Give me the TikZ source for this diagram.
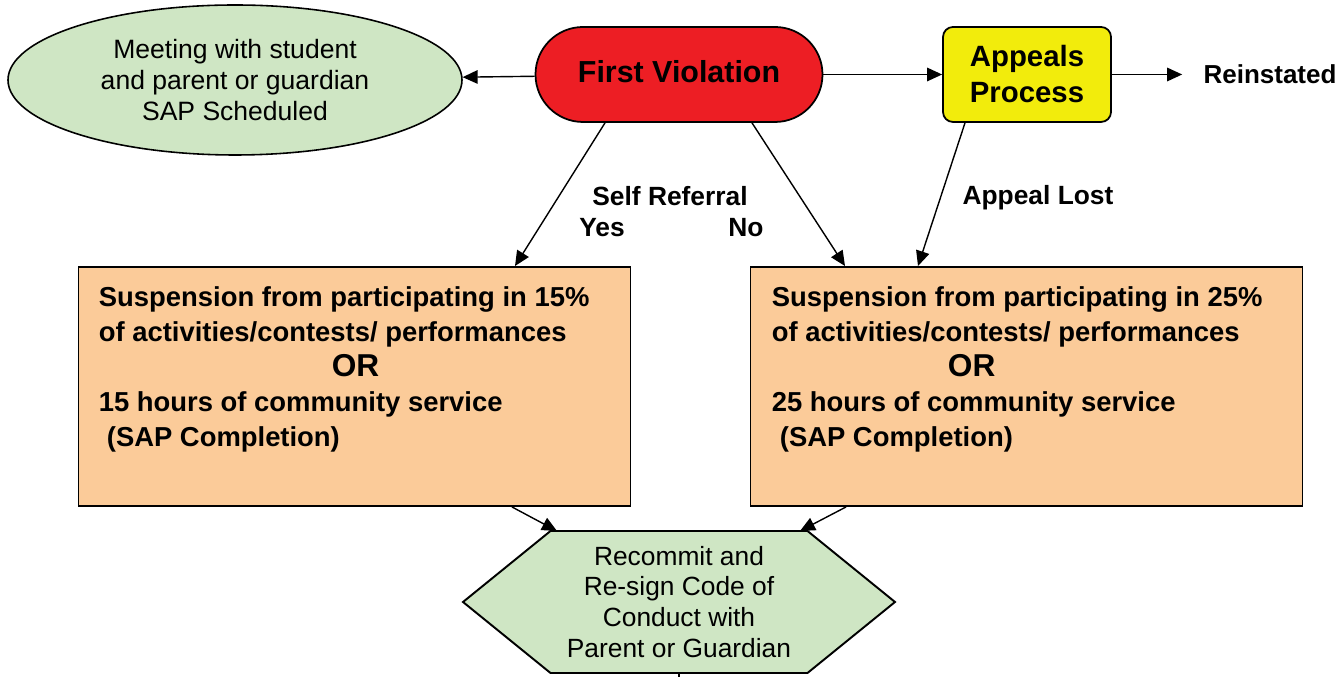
\documentclass[tikz,border=0pt]{standalone}
\usepackage{fontspec}
\setmainfont{Liberation Sans}
\usetikzlibrary{shapes.geometric, arrows.meta}

\definecolor{vioRed}{RGB}{237,30,36}
\definecolor{appYellow}{RGB}{242,236,12}
\definecolor{meetGreen}{RGB}{207,230,196}
\definecolor{suspOrange}{RGB}{251,203,153}

\tikzset{
    arr/.style={draw=black, line width=0.8pt, -{Triangle[length=0.3cm,width=0.27cm]}},
    plain/.style={draw=black, line width=0.8pt},
    suspbox/.style={shape=rectangle, fill=suspOrange, draw=black, line width=1.1pt, minimum width=11.04cm, minimum height=4.78cm},
    susptext/.style={anchor=north west, inner sep=0pt, align=left, font=\bfseries\fontsize{15.6}{20}\selectfont},
    labeltext/.style={inner sep=0pt, font=\bfseries\fontsize{15}{18}\selectfont}
}

\begin{document}
\begin{tikzpicture}

            \useasboundingbox (0,0) rectangle (26.78,13.54);

            \node[shape=ellipse, fill=meetGreen, draw=black, line width=0.9pt, minimum width=9.08cm, minimum height=3cm, inner sep=0pt, align=center, font=\fontsize{15.1}{17.4}\selectfont] (Meet) at (4.70,11.94) {Meeting with student\\and parent or guardian\\SAP Scheduled};
            \node[shape=rectangle, rounded corners=0.95cm, fill=vioRed, draw=black, line width=1pt, minimum width=5.74cm, minimum height=1.9cm, font=\bfseries\fontsize{17.3}{20}\selectfont] (First) at (13.58,12.05) {\raisebox{0.12cm}{First Violation}};
            \node[shape=rectangle, rounded corners=0.2cm, fill=appYellow, draw=black, line width=1pt, minimum width=3.36cm, minimum height=1.9cm, align=center, font=\bfseries\fontsize{16.7}{20.5}\selectfont] (Appeal) at (20.54,12.05) {Appeals\\Process};
            \node[inner sep=0pt, font=\bfseries\fontsize{14.8}{18}\selectfont] (Reinst) at (25.40,12.05) {Reinstated};

            \node[suspbox] (Susp1) at (7.09,5.81) {};
            \node[suspbox] (Susp2) at (20.53,5.81) {};
            \node[susptext] (Susp1Text) at ([xshift=0.42cm, yshift=-0.40cm]Susp1.north west) {Suspension from participating in 15\%\\of activities/contests/ performances\\\hspace*{4.66cm}{\fontsize{18}{20}\selectfont OR}\\15 hours of community service\\\hspace*{0.16cm}(SAP Completion)};
            \node[susptext] (Susp2Text) at ([xshift=0.44cm, yshift=-0.40cm]Susp2.north west) {Suspension from participating in 25\%\\of activities/contests/ performances\\\hspace*{3.52cm}{\fontsize{18}{20}\selectfont OR}\\25 hours of community service\\\hspace*{0.16cm}(SAP Completion)};

            \coordinate (HexC) at (13.58,1.50);
            \draw[fill=meetGreen, draw=black, line width=1.1pt] ([xshift=-4.32cm]HexC) -- ([xshift=-2.57cm, yshift=1.42cm]HexC) -- ([xshift=2.57cm, yshift=1.42cm]HexC) -- ([xshift=4.32cm]HexC) -- ([xshift=2.57cm, yshift=-1.42cm]HexC) -- ([xshift=-2.57cm, yshift=-1.42cm]HexC) -- cycle;
            \node[align=center, font=\fontsize{15}{17.6}\selectfont] (Recommit) at (HexC) {Recommit and\\Re-sign Code of\\Conduct with\\Parent or Guardian};
            \coordinate (HexIn1) at ([xshift=-2.44cm, yshift=1.42cm]HexC);
            \coordinate (HexIn2) at ([xshift=2.42cm, yshift=1.42cm]HexC);
            \coordinate (HexOut) at ([yshift=-1.42cm]HexC);
            \coordinate (Next) at ([yshift=-0.6cm]HexOut);

            \node[labeltext] (SelfRef) at (13.40,9.62) {Self Referral};
            \node[labeltext] (Yes) at (12.04,8.98) {Yes};
            \node[labeltext] (No) at (14.92,8.98) {No};
            \node[labeltext] (Lost) at (20.76,9.58) {Appeal Lost};

            \draw[arr] (First) -- (Meet);
            \draw[arr] (First) -- (Appeal);
            \draw[arr] (Appeal) -- ([xshift=-0.42cm]Reinst.west);

            \draw[arr] ([xshift=-1.48cm]First.south) -- ([xshift=3.21cm]Susp1.north);
            \draw[arr] ([xshift=1.46cm]First.south) -- ([xshift=-3.63cm]Susp2.north);
            \draw[arr] ([xshift=-1.24cm]Appeal.south) -- ([xshift=-2.17cm]Susp2.north);

            \draw[arr] ([xshift=3.15cm]Susp1.south) -- (HexIn1);
            \draw[arr] ([xshift=-3.61cm]Susp2.south) -- (HexIn2);
            \draw[plain] (HexOut) -- (Next);
        \end{tikzpicture}
\end{document}
